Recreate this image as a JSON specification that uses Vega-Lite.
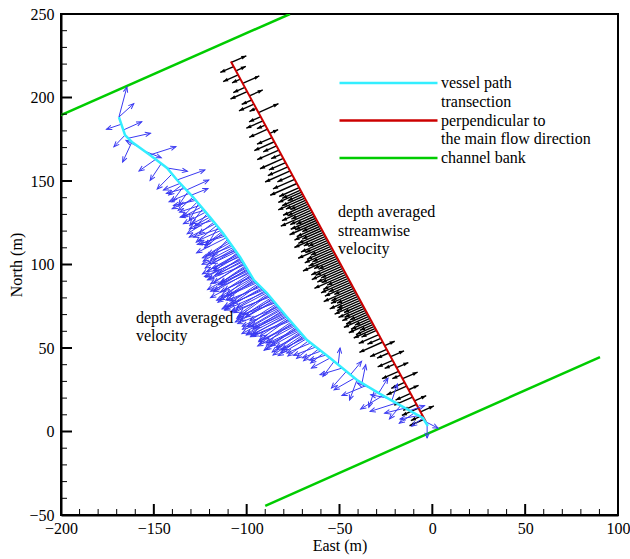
{
"$schema":"https://vega.github.io/schema/vega-lite/v6.json",
"width":557,"height":501,
"autosize":{"type":"none"},
"padding":{"left":61,"top":14,"right":12,"bottom":44},
"background":"white",
"config":{"view":{"stroke":"black","strokeWidth":2},"font":"Liberation Serif",
 "axis":{"labelFont":"Liberation Serif","labelFontSize":16,"labelColor":"black","labelOverlap":false,"labelFlush":false,
  "domainColor":"black","domainWidth":2,"grid":false,
  "titleFont":"Liberation Serif","titleFontSize":16,"titleFontWeight":"normal","titleColor":"black"}},
"datasets":{
"xminor":[{"v":-190},{"v":-180},{"v":-170},{"v":-160},{"v":-140},{"v":-130},{"v":-120},{"v":-110},{"v":-90},{"v":-80},{"v":-70},{"v":-60},{"v":-40},{"v":-30},{"v":-20},{"v":-10},{"v":10},{"v":20},{"v":30},{"v":40},{"v":60},{"v":70},{"v":80},{"v":90}],
"xmajor":[{"v":-150},{"v":-100},{"v":-50},{"v":0},{"v":50}],
"yminor":[{"v":-40},{"v":-30},{"v":-20},{"v":-10},{"v":10},{"v":20},{"v":30},{"v":40},{"v":60},{"v":70},{"v":80},{"v":90},{"v":110},{"v":120},{"v":130},{"v":140},{"v":160},{"v":170},{"v":180},{"v":190},{"v":210},{"v":220},{"v":230},{"v":240}],
"ymajor":[{"v":0},{"v":50},{"v":100},{"v":150},{"v":200}],
"lines":[
{"series":"bank","seg":"n","x":-200,"y":189.5},{"series":"bank","seg":"n","x":-76.7,"y":250},
{"series":"bank","seg":"s","x":-90,"y":-44.6},{"series":"bank","seg":"s","x":90.3,"y":44.6}],
"perp":[{"series":"perp","seg":"p","x":-108.5,"y":221.5},{"series":"perp","seg":"p","x":-3.4,"y":5.7}],
"path":[
{"series":"vessel","seg":"v","x":-168.8,"y":188.3},{"series":"vessel","seg":"v","x":-165.5,"y":177.5},{"series":"vessel","seg":"v","x":-161.8,"y":173.4},{"series":"vessel","seg":"v","x":-152.1,"y":165.6},{"series":"vessel","seg":"v","x":-142.9,"y":157.8},{"series":"vessel","seg":"v","x":-137.5,"y":150.6},{"series":"vessel","seg":"v","x":-128.9,"y":140.4},{"series":"vessel","seg":"v","x":-119.8,"y":128.4},{"series":"vessel","seg":"v","x":-112.8,"y":118.9},{"series":"vessel","seg":"v","x":-103.6,"y":104.5},{"series":"vessel","seg":"v","x":-96.1,"y":90.7},{"series":"vessel","seg":"v","x":-89.1,"y":82.9},{"series":"vessel","seg":"v","x":-78.3,"y":68.6},{"series":"vessel","seg":"v","x":-67.5,"y":54.8},{"series":"vessel","seg":"v","x":-55.1,"y":44},{"series":"vessel","seg":"v","x":-40.6,"y":30.8},{"series":"vessel","seg":"v","x":-28.2,"y":22.5},{"series":"vessel","seg":"v","x":-15.8,"y":14.7},{"series":"vessel","seg":"v","x":-5.1,"y":8.1},{"series":"vessel","seg":"v","x":-2.4,"y":3.3}],
"stream":[
{"x":-108.26,"y":221,"s":-9},{"x":-107.04,"y":218.5,"s":8},{"x":-105.82,"y":216,"s":-6},{"x":-104.6,"y":213.5,"s":9},{"x":-103.39,"y":211,"s":5},{"x":-102.17,"y":208.5,"s":-10},{"x":-100.95,"y":206,"s":7},{"x":-99.73,"y":203.5,"s":10},{"x":-98.51,"y":201,"s":-8},{"x":-97.3,"y":198.5,"s":6},{"x":-96.08,"y":196,"s":9},{"x":-94.86,"y":193.5,"s":4},{"x":-93.64,"y":191,"s":-12},{"x":-92.43,"y":188.5,"s":7},{"x":-91.21,"y":186,"s":10},{"x":-89.99,"y":183.5,"s":5},{"x":-88.77,"y":181,"s":11},{"x":-87.55,"y":178.5,"s":-5},{"x":-86.34,"y":176,"s":9},{"x":-85.12,"y":173.5,"s":12},{"x":-83.9,"y":171,"s":8},{"x":-82.68,"y":168.5,"s":13},{"x":-81.47,"y":166,"s":6},{"x":-80.25,"y":163.5,"s":14},{"x":-79.03,"y":161,"s":10},{"x":-77.81,"y":158.5,"s":12},{"x":-76.59,"y":156,"s":15},{"x":-75.38,"y":153.5,"s":9},{"x":-74.16,"y":151,"s":13},{"x":-72.94,"y":148.5,"s":16},{"x":-71.72,"y":146,"s":12},
{"x":-70.99,"y":144.5,"s":11},{"x":-70.41,"y":143.3,"s":14},{"x":-69.82,"y":142.1,"s":9},{"x":-69.24,"y":140.9,"s":13},{"x":-68.65,"y":139.7,"s":16},{"x":-68.07,"y":138.5,"s":12},{"x":-67.49,"y":137.3,"s":10},{"x":-66.9,"y":136.1,"s":15},{"x":-66.32,"y":134.9,"s":13},{"x":-65.73,"y":133.7,"s":17},{"x":-65.15,"y":132.5,"s":12},
{"x":-64.56,"y":131.3,"s":19},{"x":-63.98,"y":130.1,"s":14},{"x":-63.4,"y":128.9,"s":11},{"x":-62.81,"y":127.7,"s":15},{"x":-62.23,"y":126.5,"s":13},{"x":-61.64,"y":125.3,"s":17},{"x":-61.06,"y":124.1,"s":10},{"x":-60.47,"y":122.9,"s":14},{"x":-59.89,"y":121.7,"s":16},{"x":-59.3,"y":120.5,"s":12},
{"x":-58.72,"y":119.3,"s":15},{"x":-58.14,"y":118.1,"s":18},{"x":-57.55,"y":116.9,"s":13},{"x":-56.97,"y":115.7,"s":11},{"x":-56.38,"y":114.5,"s":16},{"x":-55.8,"y":113.3,"s":14},{"x":-55.21,"y":112.1,"s":19},{"x":-54.63,"y":110.9,"s":12},{"x":-54.04,"y":109.7,"s":15},{"x":-53.46,"y":108.5,"s":17},
{"x":-52.87,"y":107.3,"s":13},{"x":-52.29,"y":106.1,"s":16},{"x":-51.71,"y":104.9,"s":20},{"x":-51.12,"y":103.7,"s":14},{"x":-50.54,"y":102.5,"s":12},{"x":-49.95,"y":101.3,"s":17},{"x":-49.37,"y":100.1,"s":15},{"x":-48.78,"y":98.9,"s":18},{"x":-48.2,"y":97.7,"s":13},{"x":-47.61,"y":96.5,"s":16},
{"x":-47.03,"y":95.3,"s":14},{"x":-46.44,"y":94.1,"s":19},{"x":-45.86,"y":92.9,"s":12},{"x":-45.28,"y":91.7,"s":15},{"x":-44.69,"y":90.5,"s":17},{"x":-44.11,"y":89.3,"s":13},{"x":-43.52,"y":88.1,"s":16},{"x":-42.94,"y":86.9,"s":11},{"x":-42.35,"y":85.7,"s":18},{"x":-41.77,"y":84.5,"s":14},
{"x":-41.18,"y":83.3,"s":15},{"x":-40.6,"y":82.1,"s":12},{"x":-40.01,"y":80.9,"s":17},{"x":-39.43,"y":79.7,"s":13},{"x":-38.85,"y":78.5,"s":14},{"x":-38.26,"y":77.3,"s":16},{"x":-37.68,"y":76.1,"s":11},{"x":-37.09,"y":74.9,"s":15},{"x":-36.51,"y":73.7,"s":12},{"x":-35.92,"y":72.5,"s":14},
{"x":-35.34,"y":71.3,"s":10},{"x":-34.75,"y":70.1,"s":13},{"x":-34.17,"y":68.9,"s":15},{"x":-33.59,"y":67.7,"s":9},{"x":-33,"y":66.5,"s":12},{"x":-32.42,"y":65.3,"s":14},{"x":-31.83,"y":64.1,"s":8},{"x":-31.25,"y":62.9,"s":11},{"x":-30.66,"y":61.7,"s":13},{"x":-30.08,"y":60.5,"s":9},
{"x":-28.86,"y":58,"s":12},{"x":-27.79,"y":55.8,"s":8},{"x":-26.72,"y":53.6,"s":14},{"x":-25.64,"y":51.4,"s":-6},{"x":-24.57,"y":49.2,"s":10},{"x":-23.5,"y":47,"s":7},{"x":-22.43,"y":44.8,"s":-8},{"x":-21.36,"y":42.6,"s":9},{"x":-20.29,"y":40.4,"s":6},{"x":-19.21,"y":38.2,"s":-7},{"x":-18.14,"y":36,"s":10},{"x":-17.07,"y":33.8,"s":5},{"x":-16,"y":31.6,"s":-9},{"x":-14.93,"y":29.4,"s":8},{"x":-13.86,"y":27.2,"s":12},{"x":-12.78,"y":25,"s":-6},{"x":-11.71,"y":22.8,"s":9},{"x":-10.64,"y":20.6,"s":11},{"x":-9.57,"y":18.4,"s":-7},{"x":-8.5,"y":16.2,"s":8},{"x":-7.43,"y":14,"s":10},{"x":-6.35,"y":11.8,"s":-8},{"x":-5.28,"y":9.6,"s":7},{"x":-4.21,"y":7.4,"s":9}],
"vel":[
{"x":-168.8,"y":188.3,"u":4.3,"v":18},{"x":-168.8,"y":188.3,"u":8,"v":8},{"x":-167.5,"y":184,"u":-8,"v":-3},{"x":-166.5,"y":180.5,"u":10,"v":5},{"x":-165.5,"y":177.5,"u":-6,"v":-7},{"x":-163.8,"y":175.6,"u":12,"v":3},{"x":-161.8,"y":173.4,"u":-5,"v":-12},{"x":-158,"y":170.3,"u":-7,"v":4},{"x":-155,"y":167.9,"u":9,"v":-4},{"x":-152.1,"y":165.6,"u":14,"v":5},{"x":-149,"y":163,"u":-9,"v":-7},{"x":-146,"y":160.4,"u":-6,"v":-10},{"x":-142.9,"y":157.8,"u":11,"v":-2},{"x":-140.2,"y":154.2,"u":-8,"v":-9},{"x":-137.5,"y":150.6,"u":15,"v":6},
{"x":-135.8,"y":148.6,"u":-9,"v":-4},{"x":-134.1,"y":146.6,"u":-6,"v":-9},{"x":-132.4,"y":144.6,"u":12,"v":6},{"x":-130.8,"y":142.6,"u":-11,"v":-5},{"x":-128.9,"y":140.4,"u":-8,"v":-8},{"x":-127.4,"y":138.4,"u":-12,"v":-3},{"x":-125.9,"y":136.4,"u":-5,"v":-10},{"x":-124.4,"y":134.4,"u":-10,"v":-6},{"x":-122.8,"y":132.4,"u":-13,"v":-4},{"x":-121.3,"y":130.4,"u":-7,"v":-9},{"x":-119.8,"y":128.4,"u":-11,"v":-7},{"x":-118.3,"y":126.4,"u":-9,"v":-3},{"x":-116.9,"y":124.4,"u":-14,"v":-8},{"x":-115.4,"y":122.4,"u":-6,"v":-11},{"x":-113.9,"y":120.4,"u":-12,"v":-6},{"x":-112.8,"y":118.9,"u":-10,"v":-9},{"x":-111.6,"y":117,"u":-15,"v":-5},{"x":-110.3,"y":115,"u":-8,"v":-10},{"x":-109,"y":113,"u":-13,"v":-8},{"x":-107.8,"y":111,"u":-16,"v":-7},
{"x":-134.95,"y":147.6,"u":-7,"v":-6},{"x":-133.25,"y":145.6,"u":-10,"v":-3},{"x":-131.6,"y":143.6,"u":-5,"v":-8},{"x":-129.85,"y":141.5,"u":9,"v":4},{"x":-128.15,"y":139.4,"u":-12,"v":-6},{"x":-126.65,"y":137.4,"u":-8,"v":-9},{"x":-125.15,"y":135.4,"u":-11,"v":-4},{"x":-123.6,"y":133.4,"u":-7,"v":-10},{"x":-122.05,"y":131.4,"u":-12,"v":-7},{"x":-120.55,"y":129.4,"u":-9,"v":-5},{"x":-119.05,"y":127.4,"u":-13,"v":-9},{"x":-117.6,"y":125.4,"u":-8,"v":-7},{"x":-116.15,"y":123.4,"u":-11,"v":-10},{"x":-114.65,"y":121.4,"u":-14,"v":-5},{"x":-113.35,"y":119.6,"u":-9,"v":-8},{"x":-112.2,"y":118,"u":-13,"v":-6},{"x":-110.95,"y":116,"u":-16,"v":-9},{"x":-109.65,"y":114,"u":-11,"v":-8},{"x":-108.4,"y":112,"u":-15,"v":-10},{"x":-107.25,"y":110.2,"u":-12,"v":-7},
{"x":-106.7,"y":109.4,"u":-14,"v":-9},{"x":-106,"y":108.2,"u":-18,"v":-8},{"x":-105.2,"y":107,"u":-12,"v":-11},{"x":-104.4,"y":105.8,"u":-17,"v":-10},{"x":-103.7,"y":104.6,"u":-15,"v":-7},{"x":-103,"y":103.4,"u":-19,"v":-11},{"x":-102.4,"y":102.2,"u":-13,"v":-8},{"x":-101.7,"y":101,"u":-16,"v":-12},{"x":-101.1,"y":99.8,"u":-20,"v":-9},{"x":-100.4,"y":98.6,"u":-14,"v":-10},{"x":-99.7,"y":97.4,"u":-18,"v":-13},{"x":-99.1,"y":96.2,"u":-15,"v":-8},{"x":-98.4,"y":95,"u":-21,"v":-11},{"x":-97.8,"y":93.8,"u":-13,"v":-12},{"x":-97.1,"y":92.6,"u":-17,"v":-9},{"x":-96.5,"y":91.4,"u":-19,"v":-14},
{"x":-95.7,"y":90.2,"u":-14,"v":-9},{"x":-94.6,"y":89,"u":-20,"v":-10},{"x":-93.5,"y":87.8,"u":-16,"v":-13},{"x":-92.4,"y":86.6,"u":-18,"v":-8},{"x":-91.3,"y":85.4,"u":-22,"v":-12},{"x":-90.3,"y":84.2,"u":-15,"v":-10},{"x":-89.2,"y":83,"u":-19,"v":-11},
{"x":-88.3,"y":81.8,"u":-17,"v":-14},{"x":-87.4,"y":80.6,"u":-21,"v":-9},{"x":-86.5,"y":79.4,"u":-14,"v":-11},{"x":-85.6,"y":78.2,"u":-18,"v":-12},{"x":-84.6,"y":77,"u":-20,"v":-8},{"x":-83.7,"y":75.8,"u":-16,"v":-13},{"x":-82.8,"y":74.6,"u":-22,"v":-10},{"x":-81.9,"y":73.4,"u":-17,"v":-11},{"x":-81,"y":72.2,"u":-19,"v":-14},{"x":-80.1,"y":71,"u":-15,"v":-9},{"x":-79.2,"y":69.8,"u":-21,"v":-12},
{"x":-78.3,"y":68.6,"u":-18,"v":-10},{"x":-77.4,"y":67.4,"u":-16,"v":-13},{"x":-76.4,"y":66.2,"u":-20,"v":-9},{"x":-75.5,"y":65,"u":-14,"v":-12},{"x":-74.5,"y":63.8,"u":-19,"v":-10},{"x":-73.6,"y":62.6,"u":-17,"v":-14},{"x":-72.7,"y":61.4,"u":-15,"v":-8},{"x":-71.7,"y":60.2,"u":-18,"v":-11},{"x":-70.8,"y":59,"u":-13,"v":-10},{"x":-69.8,"y":57.8,"u":-16,"v":-12},{"x":-68.9,"y":56.6,"u":-12,"v":-8},{"x":-68,"y":55.4,"u":-15,"v":-10},
{"x":-106.35,"y":108.8,"u":-16,"v":-11},{"x":-105.6,"y":107.6,"u":-13,"v":-7},{"x":-104.8,"y":106.4,"u":-19,"v":-12},{"x":-104.05,"y":105.2,"u":-14,"v":-9},{"x":-103.35,"y":104,"u":-17,"v":-13},{"x":-102.7,"y":102.8,"u":-20,"v":-10},{"x":-102.05,"y":101.6,"u":-15,"v":-8},{"x":-101.4,"y":100.4,"u":-18,"v":-12},{"x":-100.75,"y":99.2,"u":-13,"v":-10},{"x":-100.05,"y":98,"u":-21,"v":-13},{"x":-99.4,"y":96.8,"u":-16,"v":-9},{"x":-98.75,"y":95.6,"u":-19,"v":-12},{"x":-98.1,"y":94.4,"u":-14,"v":-10},{"x":-97.45,"y":93.2,"u":-22,"v":-13},{"x":-96.8,"y":92,"u":-17,"v":-11},{"x":-96.1,"y":90.8,"u":-15,"v":-12},{"x":-95.15,"y":89.6,"u":-21,"v":-11},{"x":-94.05,"y":88.4,"u":-18,"v":-14},{"x":-92.95,"y":87.2,"u":-16,"v":-9},{"x":-91.85,"y":86,"u":-20,"v":-13},{"x":-90.8,"y":84.8,"u":-17,"v":-8},{"x":-89.75,"y":83.6,"u":-22,"v":-11},{"x":-88.75,"y":82.4,"u":-15,"v":-12},{"x":-87.85,"y":81.2,"u":-19,"v":-10},{"x":-86.95,"y":80,"u":-18,"v":-13},{"x":-86.05,"y":78.8,"u":-16,"v":-9},{"x":-85.1,"y":77.6,"u":-21,"v":-12},{"x":-84.15,"y":76.4,"u":-14,"v":-10},{"x":-83.25,"y":75.2,"u":-19,"v":-14},{"x":-82.35,"y":74,"u":-20,"v":-11},{"x":-81.45,"y":72.8,"u":-16,"v":-10},{"x":-80.55,"y":71.6,"u":-22,"v":-13},{"x":-79.65,"y":70.4,"u":-17,"v":-9},{"x":-78.75,"y":69.2,"u":-19,"v":-12},{"x":-77.85,"y":68,"u":-15,"v":-11},{"x":-76.9,"y":66.8,"u":-21,"v":-10},{"x":-75.95,"y":65.6,"u":-17,"v":-13},{"x":-75,"y":64.4,"u":-16,"v":-9},{"x":-74.05,"y":63.2,"u":-20,"v":-12},{"x":-73.15,"y":62,"u":-14,"v":-11},{"x":-72.2,"y":60.8,"u":-17,"v":-9},{"x":-71.25,"y":59.6,"u":-15,"v":-12},{"x":-70.3,"y":58.4,"u":-14,"v":-8},{"x":-69.35,"y":57.2,"u":-12,"v":-10},{"x":-68.45,"y":56,"u":-13,"v":-7},
{"x":-66.8,"y":54.2,"u":-11,"v":-9},{"x":-65.4,"y":53,"u":-13,"v":-6},{"x":-64.1,"y":51.8,"u":-9,"v":-8},{"x":-62.7,"y":50.6,"u":-12,"v":-5},{"x":-61.3,"y":49.4,"u":-8,"v":-7},{"x":-59.9,"y":48.2,"u":-10,"v":-4},{"x":-58.5,"y":47,"u":-7,"v":-6},{"x":-57.2,"y":45.8,"u":-9,"v":-3},
{"x":-55.1,"y":44,"u":-10,"v":-6},{"x":-52.9,"y":42,"u":-6,"v":-9},{"x":-50.7,"y":40,"u":1,"v":10},{"x":-48.5,"y":38,"u":-12,"v":-4},{"x":-46.3,"y":36,"u":-8,"v":-10},{"x":-44.1,"y":34,"u":6,"v":8},{"x":-41.9,"y":32,"u":-11,"v":-7},{"x":-40.6,"y":30.8,"u":-4,"v":-12},{"x":-37.9,"y":29,"u":2,"v":11},{"x":-35.7,"y":27.5,"u":-13,"v":-6},{"x":-33.4,"y":26,"u":-7,"v":3},{"x":-31.2,"y":24.5,"u":-3,"v":-10},{"x":-28.9,"y":23,"u":5,"v":9},{"x":-26.6,"y":21.5,"u":-12,"v":-8},{"x":-24.2,"y":20,"u":-9,"v":2},{"x":-21.8,"y":18.5,"u":3,"v":10},{"x":-19.5,"y":17,"u":-14,"v":-5},{"x":-17.1,"y":15.5,"u":-6,"v":-8},{"x":-14.7,"y":14,"u":-11,"v":-3},{"x":-12.2,"y":12.5,"u":8,"v":3},{"x":-9.8,"y":11,"u":-8,"v":-6},{"x":-7.4,"y":9.5,"u":-10,"v":-2},{"x":-5.1,"y":8.1,"u":-6,"v":-5},{"x":-3.9,"y":6,"u":7,"v":-4},{"x":-2.8,"y":4,"u":0,"v":-8}],
"notes":[{"x":-50.8,"y":128.4,"t":"depth averaged\nstreamwise\nvelocity"},{"x":-159.6,"y":65,"t":"depth averaged\nvelocity"}]
},
"layer":[
{"data":{"name":"lines"},"mark":{"type":"line","strokeWidth":2.5,"clip":true},
 "encoding":{
  "x":{"field":"x","type":"quantitative","scale":{"domain":[-200,100],"nice":false,"zero":false},
   "axis":{"orient":"bottom","title":"East (m)","values":[-200,-150,-100,-50,0,50,100],"ticks":false,
    "labelFont":"Liberation Serif","labelFontSize":16,"labelColor":"black","labelPadding":5,"labelOverlap":false,"labelFlush":false,
    "domain":true,"domainWidth":2,"domainColor":"black","titlePadding":1,"titleFont":"Liberation Serif","titleFontSize":16,"titleFontWeight":"normal"}},
  "y":{"field":"y","type":"quantitative","scale":{"domain":[-50,250],"nice":false,"zero":false},
   "axis":{"orient":"left","title":"North (m)","values":[-50,0,50,100,150,200,250],"ticks":false,
    "labelFont":"Liberation Serif","labelFontSize":16,"labelColor":"black","labelPadding":7,"labelOverlap":false,"labelFlush":false,
    "domain":true,"domainWidth":2,"domainColor":"black","titlePadding":4,"titleFont":"Liberation Serif","titleFontSize":16,"titleFontWeight":"normal"}},
  "color":{"field":"series","type":"nominal","scale":{"domain":["vessel","perp","bank"],"range":["#33eeff","#cc0000","#00cc00"]},
   "legend":{"orient":"none","legendX":277,"legendY":61,"title":null,"padding":0,"symbolType":"stroke","symbolSize":9604,"symbolStrokeWidth":2.5,
    "labelFont":"Liberation Serif","labelFontSize":16,"labelColor":"black","labelLimit":400,"labelOffset":2,"labelBaseline":"alphabetic","rowPadding":2.5,
    "labelExpr":"datum.value == 'vessel' ? ['vessel path', 'transection'] : datum.value == 'perp' ? ['perpendicular to', 'the main flow direction'] : ['channel bank', ' ']",
    "encode":{"symbols":{"update":{"y":{"value":8}}},"labels":{"update":{"y":{"value":8},"dy":{"value":5},"lineHeight":{"value":18.5}}}}}},
  "detail":{"field":"seg"}}},
{"data":{"name":"xminor"},"mark":{"type":"rule","color":"black","strokeWidth":1,"y2Offset":-6},
 "encoding":{"x":{"field":"v","type":"quantitative"},"y":{"datum":-50,"type":"quantitative"},"y2":{"datum":-50}}},
{"data":{"name":"xmajor"},"mark":{"type":"rule","color":"black","strokeWidth":2,"y2Offset":-11},
 "encoding":{"x":{"field":"v","type":"quantitative"},"y":{"datum":-50,"type":"quantitative"},"y2":{"datum":-50}}},
{"data":{"name":"yminor"},"mark":{"type":"rule","color":"black","strokeWidth":1,"x2Offset":6},
 "encoding":{"y":{"field":"v","type":"quantitative"},"x":{"datum":-200,"type":"quantitative"},"x2":{"datum":-200}}},
{"data":{"name":"ymajor"},"mark":{"type":"rule","color":"black","strokeWidth":2,"x2Offset":11},
 "encoding":{"y":{"field":"v","type":"quantitative"},"x":{"datum":-200,"type":"quantitative"},"x2":{"datum":-200}}},
{"data":{"name":"stream"},
 "transform":[{"calculate":"datum.x - 0.898*datum.s","as":"xe"},{"calculate":"datum.y - 0.44*datum.s","as":"ye"},
  {"calculate":"atan2((datum.xe-datum.x)*1.8567,(datum.ye-datum.y)*1.67)*180/PI","as":"ang"}],
 "layer":[
  {"mark":{"type":"rule","color":"black","strokeWidth":1.4},
   "encoding":{"x":{"field":"x","type":"quantitative"},"y":{"field":"y","type":"quantitative"},"x2":{"field":"xe"},"y2":{"field":"ye"}}},
  {"mark":{"type":"point","shape":"M0,0L-0.6,1.6L0.6,1.6Z","filled":true,"color":"black","opacity":1,"size":40},
   "encoding":{"x":{"field":"xe","type":"quantitative"},"y":{"field":"ye","type":"quantitative"},"angle":{"field":"ang","type":"quantitative","scale":null}}}]},
{"data":{"name":"perp"},"mark":{"type":"line","strokeWidth":2},
 "encoding":{"x":{"field":"x","type":"quantitative"},"y":{"field":"y","type":"quantitative"},"color":{"field":"series","type":"nominal"},"detail":{"field":"seg"}}},
{"data":{"name":"vel"},
 "transform":[{"calculate":"datum.x + datum.u","as":"xe"},{"calculate":"datum.y + datum.v","as":"ye"},
  {"calculate":"atan2(datum.u*1.8567,datum.v*1.67)*180/PI","as":"ang"}],
 "layer":[
  {"mark":{"type":"rule","color":"#3a3af2","strokeWidth":1},
   "encoding":{"x":{"field":"x","type":"quantitative"},"y":{"field":"y","type":"quantitative"},"x2":{"field":"xe"},"y2":{"field":"ye"}}},
  {"mark":{"type":"point","shape":"M-0.7,1.7L0,0L0.7,1.7","filled":false,"color":"#3a3af2","strokeWidth":1,"opacity":1,"size":40},
   "encoding":{"x":{"field":"xe","type":"quantitative"},"y":{"field":"ye","type":"quantitative"},"angle":{"field":"ang","type":"quantitative","scale":null}}}]},
{"data":{"name":"path"},"mark":{"type":"line","strokeWidth":2.5},
 "encoding":{"x":{"field":"x","type":"quantitative"},"y":{"field":"y","type":"quantitative"},"color":{"field":"series","type":"nominal"},"detail":{"field":"seg"}}},
{"data":{"name":"notes"},"mark":{"type":"text","align":"left","baseline":"alphabetic","lineBreak":"\n","lineHeight":18.5,"font":"Liberation Serif","fontSize":16,"color":"black"},
 "encoding":{"x":{"field":"x","type":"quantitative"},"y":{"field":"y","type":"quantitative"},"text":{"field":"t"}}}
]
}
